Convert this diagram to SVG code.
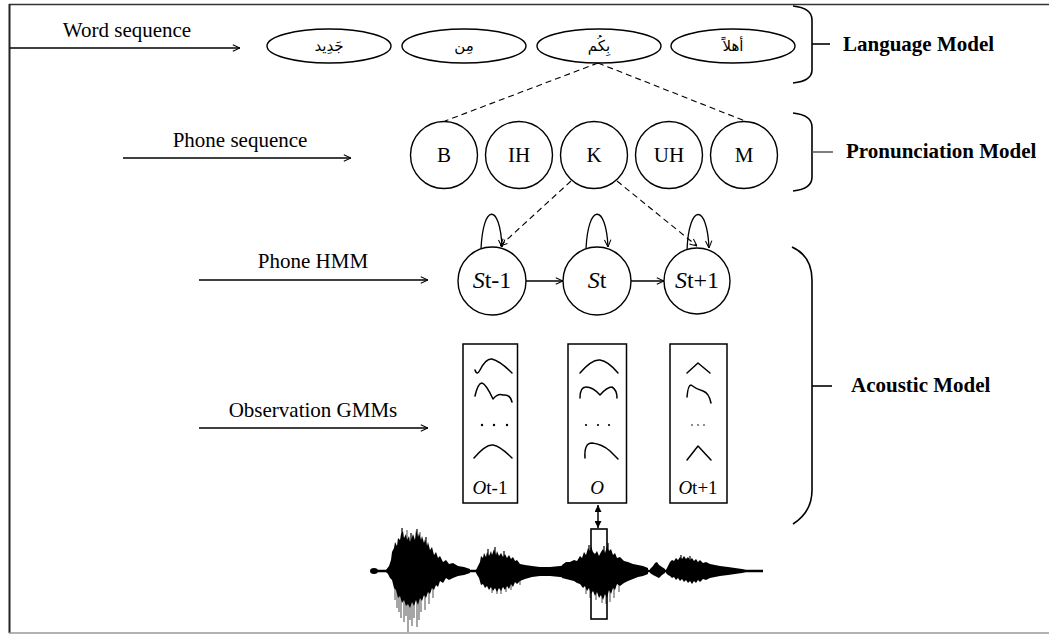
<svg xmlns="http://www.w3.org/2000/svg" width="1049" height="634" viewBox="0 0 1049 634">
<style>
  .t{font-family:"Liberation Serif","Times New Roman",serif;font-size:21px;fill:#000}
  .b{font-family:"Liberation Serif","Times New Roman",serif;font-size:21px;font-weight:bold;fill:#000}
  .ar{font-family:"DejaVu Sans","Noto Sans",sans-serif;font-size:15px;fill:#000}
  .st{font-family:"Liberation Serif","Times New Roman",serif;font-size:24px;fill:#000}
  .ob{font-family:"Liberation Serif","Times New Roman",serif;font-size:19px;fill:#000}
  .ln{stroke:#000;stroke-width:1.3;fill:none}
  .dash{stroke:#000;stroke-width:1.1;fill:none;stroke-dasharray:6,4}
  .nd{stroke:#000;stroke-width:1.4;fill:#fff}
  .cv{stroke:#000;stroke-width:1.5;fill:none;stroke-linecap:round;stroke-linejoin:round}
  .br{stroke:#000;stroke-width:1.6;fill:none}
  .gs{stroke:#6a6a6a;stroke-width:1.2}
  .ks{stroke:#000;stroke-width:1.2}
</style>
<defs>
  <marker id="open" viewBox="0 0 10 10" refX="10" refY="5" markerWidth="8" markerHeight="8" markerUnits="userSpaceOnUse" orient="auto">
    <path d="M1,1 L10,5 L1,9" fill="none" stroke="#000" stroke-width="1.3"/>
  </marker>
  <marker id="solid" viewBox="0 0 10 10" refX="10" refY="5" markerWidth="7" markerHeight="7" markerUnits="userSpaceOnUse" orient="auto-start-reverse">
    <path d="M0,0 L10,5 L0,10 Z" fill="#000"/>
  </marker>
</defs>

<!-- frame -->
<g id="frame">
  <line x1="9" y1="4.5" x2="1049" y2="4.5" stroke="#333" stroke-width="1.5"/>
  <line x1="9.5" y1="4" x2="9.5" y2="633" stroke="#222" stroke-width="2"/>
  <line x1="9" y1="633" x2="1049" y2="633" stroke="#999" stroke-width="1.5"/>
</g>

<!-- side labels -->
<g id="label-word">
  <text class="t" x="127" y="37" text-anchor="middle">Word sequence</text>
</g>
<g id="label-phone">
  <text class="t" x="240" y="147" text-anchor="middle">Phone sequence</text>
</g>
<g id="label-hmm">
  <text class="t" x="313" y="268" text-anchor="middle">Phone HMM</text>
</g>
<g id="label-gmm">
  <text class="t" x="313" y="417" text-anchor="middle">Observation GMMs</text>
</g>

<!-- words -->
<g id="w1"><ellipse class="nd" cx="329" cy="46" rx="62" ry="17"/><text class="ar" x="329" y="51" text-anchor="middle">جَدِيد</text></g>
<g id="w2"><ellipse class="nd" cx="464" cy="46" rx="62" ry="17"/><text class="ar" x="464" y="51" text-anchor="middle">مِن</text></g>
<g id="w3"><ellipse class="nd" cx="599" cy="46" rx="62" ry="17"/><text class="ar" x="599" y="51" text-anchor="middle">بِكُم</text></g>
<g id="w4"><ellipse class="nd" cx="733" cy="46" rx="62" ry="17"/><text class="ar" x="733" y="51" text-anchor="middle">أهلاً</text></g>

<!-- phones -->
<g id="pB"><circle class="nd" cx="444" cy="155" r="33.5"/><text class="t" x="444" y="162" text-anchor="middle">B</text></g>
<g id="pIH"><circle class="nd" cx="519" cy="155" r="33.5"/><text class="t" x="519" y="162" text-anchor="middle">IH</text></g>
<g id="pK"><circle class="nd" cx="594" cy="155" r="33.5"/><text class="t" x="594" y="162" text-anchor="middle">K</text></g>
<g id="pUH"><circle class="nd" cx="669" cy="155" r="33.5"/><text class="t" x="669" y="162" text-anchor="middle">UH</text></g>
<g id="pM"><circle class="nd" cx="744" cy="155" r="33.5"/><text class="t" x="744" y="162" text-anchor="middle">M</text></g>

<!-- HMM states -->
<g id="s1"><circle class="nd" cx="492" cy="281" r="34"/><text class="st" x="492" y="288" text-anchor="middle"><tspan font-style="italic">S</tspan>t-1</text></g>
<g id="s2"><circle class="nd" cx="597" cy="281" r="34"/><text class="st" x="597" y="288" text-anchor="middle"><tspan font-style="italic">S</tspan>t</text></g>
<g id="s3"><circle class="nd" cx="697" cy="281" r="33"/><text class="st" x="697" y="288" text-anchor="middle"><tspan font-style="italic">S</tspan>t+1</text></g>

<!-- GMM boxes -->
<g id="o1">
  <rect x="463" y="344" width="54.5" height="159" fill="none" stroke="#000" stroke-width="1.5"/>
  <path class="cv" d="M475,370 Q477,376 480,370 Q486,358 492,359 Q500,361 512,373"/>
  <path class="cv" d="M475,396 Q478,383 482,383 Q486,384 493,399 Q498,393 503,395 Q510,394 512,402"/>
  <circle cx="482" cy="425" r="1.2"/><circle cx="494" cy="425" r="1.2"/><circle cx="507" cy="425" r="1.2"/>
  <path class="cv" d="M474,458 Q486,444 493,445 Q500,446 512,458"/>
  <text class="ob" x="490" y="494" text-anchor="middle"><tspan font-style="italic">O</tspan>t-1</text>
</g>
<g id="o2">
  <rect x="568" y="344" width="58.5" height="159" fill="none" stroke="#000" stroke-width="1.5"/>
  <path class="cv" d="M580,373 Q592,359 600,360 Q608,361 618,373"/>
  <path class="cv" d="M580,398 Q580,387 586,387 Q593,387 600,395 Q607,387 612,387 Q617,390 617,398"/>
  <circle cx="586" cy="425" r="1.1"/><circle cx="598" cy="425" r="1.1"/><circle cx="609" cy="425" r="1.1"/>
  <path class="cv" d="M585,458 Q584,443 592,443 Q602,444 610,451 Q615,456 618,459"/>
  <text class="ob" x="597" y="494" text-anchor="middle"><tspan font-style="italic">O</tspan></text>
</g>
<g id="o3">
  <rect x="670" y="344" width="57" height="159" fill="none" stroke="#000" stroke-width="1.5"/>
  <path class="cv" d="M687,373 L698,363 L710,373"/>
  <path class="cv" d="M687,397 Q688,385 691,385 Q696,389 703,391 Q709,393 711,403"/>
  <circle cx="692" cy="425" r="0.8"/><circle cx="698" cy="425" r="0.8"/><circle cx="704" cy="425" r="0.8"/>
  <path class="cv" d="M687,460 L698,446 L711,460"/>
  <text class="ob" x="698" y="494" text-anchor="middle"><tspan font-style="italic">O</tspan>t+1</text>
</g>

<!-- braces -->
<g id="brace-language">
  <path class="br" d="M793,6 Q812,8 812,20 L812,70 Q812,81 793,83"/>
  <line class="br" x1="812" y1="44" x2="830" y2="44"/>
  <text class="b" x="843" y="51">Language Model</text>
</g>
<g id="brace-pronunciation">
  <path class="br" d="M793,113 Q812,115 812,127 L812,177 Q812,189 793,191"/>
  <line x1="812" y1="152" x2="833" y2="152" stroke="#555" stroke-width="1.5"/>
  <text class="b" x="846" y="158">Pronunciation Model</text>
</g>
<g id="brace-acoustic">
  <path class="br" d="M792,247 Q812,256 812,280 L812,490 Q812,512 793,524"/>
  <line class="br" x1="812" y1="386" x2="832" y2="386"/>
  <text class="b" x="851" y="392">Acoustic Model</text>
</g>

<!-- waveform -->
<g id="waveform">
  <line x1="372" y1="571" x2="763" y2="571" stroke="#000" stroke-width="2.5"/>
  <ellipse cx="374" cy="571" rx="4" ry="3"/>
  <g class="gs">
    <line x1="395" y1="571" x2="395" y2="600"/><line x1="397" y1="571" x2="397" y2="608"/>
    <line x1="399" y1="571" x2="399" y2="612"/><line x1="401" y1="571" x2="401" y2="618"/>
    <line x1="404" y1="571" x2="404" y2="622"/><line x1="406" y1="571" x2="406" y2="616"/>
    <line x1="408" y1="571" x2="408" y2="632"/><line x1="410" y1="571" x2="410" y2="620"/>
    <line x1="412" y1="571" x2="412" y2="626"/><line x1="414" y1="571" x2="414" y2="618"/>
    <line x1="417" y1="571" x2="417" y2="627"/><line x1="419" y1="571" x2="419" y2="620"/>
    <line x1="421" y1="571" x2="421" y2="612"/><line x1="425" y1="571" x2="425" y2="610"/>
    <line x1="429" y1="571" x2="429" y2="604"/><line x1="433" y1="571" x2="433" y2="598"/>
    <line x1="407" y1="571" x2="407" y2="530"/><line x1="420" y1="571" x2="420" y2="532"/>
    <line x1="492" y1="571" x2="492" y2="593"/><line x1="497" y1="571" x2="497" y2="594"/>
    <line x1="501" y1="571" x2="501" y2="594"/><line x1="506" y1="571" x2="506" y2="592"/>
    <line x1="511" y1="571" x2="511" y2="590"/><line x1="520" y1="571" x2="520" y2="585"/>
    <line x1="586" y1="571" x2="586" y2="594"/><line x1="590" y1="571" x2="590" y2="598"/>
    <line x1="596" y1="571" x2="596" y2="600"/><line x1="602" y1="571" x2="602" y2="603"/>
    <line x1="606" y1="571" x2="606" y2="604"/><line x1="610" y1="571" x2="610" y2="602"/>
    <line x1="614" y1="571" x2="614" y2="598"/><line x1="619" y1="571" x2="619" y2="592"/>
  </g>
  <polygon fill="#000" points="386,570 389,566 391,560 392,552 394,548 395,542 397,546 398,538 400,540 401,534 403,531 404,538 406,534 407,540 409,536 410,542 412,537 413,534 415,540 416,530 418,537 419,533 421,540 422,536 424,543 425,539 427,546 428,542 430,550 432,547 434,555 436,552 438,558 440,556 443,562 446,560 449,564 453,563 458,566 464,567 470,569 470,573 464,575 458,576 453,578 449,580 446,578 443,583 440,581 438,587 436,585 434,590 432,588 430,594 428,592 426,598 424,595 422,601 420,598 418,605 416,600 414,606 412,602 410,608 408,604 406,606 404,600 402,603 400,596 398,598 396,590 394,588 392,580 390,578 388,574 386,572"/>
  <polygon fill="#000" points="476,570 478,566 480,562 481,556 483,558 484,553 486,557 487,552 489,556 491,551 492,555 494,549 496,555 497,551 499,556 501,553 503,557 505,554 507,558 509,555 511,559 513,557 515,561 517,560 520,564 525,565 532,566 540,567 550,567 560,566 566,565 566,578 560,577 550,576 540,576 532,577 525,579 520,581 517,584 515,582 513,587 511,584 509,589 507,586 505,590 503,587 501,591 499,588 497,592 495,588 493,591 491,587 489,590 487,586 485,588 483,584 481,585 479,578 476,573"/>
  <polygon fill="#000" points="562,565 566,562 570,562 574,560 577,561 580,556 582,558 584,552 586,555 588,548 590,551 591,546 593,552 595,554 597,551 599,556 601,552 603,549 605,553 607,546 609,551 611,549 613,555 615,553 617,558 620,557 624,561 628,562 633,564 638,565 643,566 648,568 648,574 643,576 638,577 633,579 628,581 624,583 620,586 617,584 615,590 613,588 611,594 609,590 607,598 605,594 603,600 601,595 599,598 597,592 595,596 593,591 591,594 589,588 587,591 585,586 583,588 580,584 577,583 574,581 570,580 566,579 562,578"/>
  <polygon fill="#000" points="650,569 653,566 655,563 657,562 659,565 662,567 665,569 665,573 662,575 659,578 657,577 655,576 653,575 650,573"/>
  <polygon fill="#000" points="666,570 668,566 670,562 672,560 674,561 676,558 678,560 680,557 682,559 684,556 686,559 688,557 690,560 692,558 694,561 696,559 698,562 700,560 703,563 706,562 710,564 715,565 720,566 728,567 735,568 742,569 746,570 746,572 742,573 735,574 728,575 720,576 715,577 710,578 706,580 703,579 700,582 698,580 696,583 694,581 692,584 690,581 688,583 686,580 684,582 682,579 680,581 678,578 676,580 674,577 672,578 670,576 668,575 666,573"/>
  <g class="ks">
    <line x1="402" y1="571" x2="402" y2="528"/><line x1="411" y1="571" x2="411" y2="533"/>
    <line x1="417" y1="571" x2="417" y2="529"/><line x1="426" y1="571" x2="426" y2="537"/>
    <line x1="488" y1="571" x2="488" y2="549"/><line x1="495" y1="571" x2="495" y2="547"/>
    <line x1="504" y1="571" x2="504" y2="551"/><line x1="589" y1="571" x2="589" y2="545"/>
    <line x1="604" y1="571" x2="604" y2="546"/><line x1="608" y1="571" x2="608" y2="543"/>
    <line x1="681" y1="571" x2="681" y2="555"/><line x1="690" y1="571" x2="690" y2="556"/>
  </g>
  <rect x="591" y="529" width="16" height="90" fill="none" stroke="#000" stroke-width="1.6"/>
</g>

<!-- connectors -->
<g id="connectors">
  <line class="ln" x1="10" y1="48" x2="240" y2="48" marker-end="url(#open)"/>
  <line class="ln" x1="123" y1="158" x2="351" y2="158" marker-end="url(#open)"/>
  <line class="ln" x1="199" y1="280" x2="428" y2="280" marker-end="url(#open)"/>
  <line class="ln" x1="199" y1="428" x2="428" y2="428" marker-end="url(#open)"/>

  <line class="dash" x1="598" y1="63" x2="445" y2="121"/>
  <line class="dash" x1="598" y1="63" x2="745" y2="121"/>

  <line class="dash" x1="571" y1="181" x2="500" y2="246" marker-end="url(#open)"/>
  <line class="dash" x1="617" y1="181" x2="697" y2="246" marker-end="url(#open)"/>

  <path class="ln" d="M481,249 C483,203 500,203 502,247" marker-end="url(#open)"/>
  <path class="ln" d="M586,249 C588,203 606,203 608,247" marker-end="url(#open)"/>
  <path class="ln" d="M687,250 C689,203 707,203 709,248" marker-end="url(#open)"/>

  <line class="ln" x1="526" y1="281" x2="563" y2="281" marker-end="url(#open)"/>
  <line class="ln" x1="631" y1="281" x2="664" y2="281" marker-end="url(#open)"/>

  <line x1="598" y1="505" x2="598" y2="528" stroke="#000" stroke-width="1.5" marker-start="url(#solid)" marker-end="url(#solid)"/>
</g>
</svg>
